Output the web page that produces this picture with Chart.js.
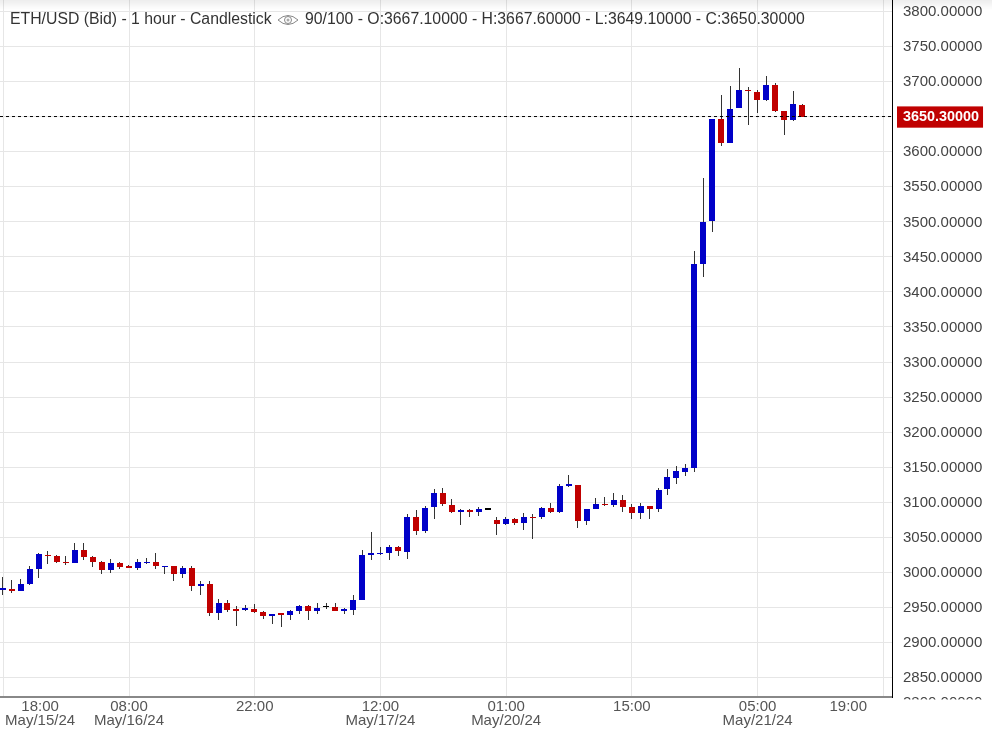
<!DOCTYPE html>
<html lang="en">

<head>
    <meta charset="UTF-8">
    <title>ETH/USD (Bid) - 1 hour - Candlestick</title>
    <script src="https://cdn.jsdelivr.net/npm/chart.js"></script>
    <style>
        body {
            margin: 0;
            background: #fff;
            overflow: hidden;
        }

        .wrap {
            position: relative;
            width: 992px;
            height: 731px;
        }

        canvas {
            position: absolute;
            left: 0;
            top: 0;
        }

        .shade {
            position: absolute;
            left: 0;
            top: 0;
            width: 992px;
            height: 10px;
            background: linear-gradient(rgba(0, 0, 0, 0.07), rgba(0, 0, 0, 0));
        }

        .head {
            position: absolute;
            top: 10px;
            font: 15.8px/17px "Liberation Sans", Arial, sans-serif;
            color: #333;
            white-space: nowrap;
        }
    </style>
</head>

<body>
    <div class="wrap">
        <canvas id="chart" width="992" height="731"></canvas>
        <div class="shade"></div>
        <div class="head" style="left:10px">ETH/USD (Bid) - 1 hour - Candlestick</div>
        <svg style="position:absolute;left:277px;top:13px" width="22" height="14" viewBox="0 0 22 14">
            <path d="M1 7 Q11 -2 21 7 Q11 16 1 7 Z" fill="none" stroke="#888" />
            <circle cx="11" cy="7" r="3.5" fill="none" stroke="#888" />
            <circle cx="11" cy="7" r="1.5" fill="#aaa" />
        </svg>
        <div class="head" style="left:305px">90/100 - O:3667.10000 - H:3667.60000 - L:3649.10000 - C:3650.30000</div>
    </div>

    <script>
        const opens = [2975.0, 2976.1, 2973.3, 2983.2, 3004.6, 3024.6, 3023.2, 3014.6, 3013.2, 3031.8,
            3021.8, 3014.6, 3003.2, 3013.2, 3007.5, 3006.1, 3013.2, 3014.6, 3007.5, 3008.9,
            2997.5, 3006.1, 2980.4, 2983.2, 2941.9, 2956.1, 2946.2, 2946.2, 2947.6, 2943.3,
            2937.6, 2940.4, 2939.0, 2944.7, 2951.8, 2944.7, 2950.2, 2950.5, 2944.8, 2946.2,
            2960.5, 3024.6, 3026.0, 3027.5, 3036.0, 3028.9, 3078.8, 3058.9, 3093.1, 3113.1,
            3095.9, 3086.0, 3087.4, 3086.0, 3089.5, 3074.6, 3068.9, 3076.0, 3070.3, 3078.8,
            3078.8, 3091.7, 3086.0, 3123.1, 3124.5, 3073.1, 3090.2, 3097.4, 3095.9, 3103.1,
            3093.1, 3084.5, 3094.5, 3090.2, 3118.8, 3134.5, 3143.1, 3148.8, 3439.9, 3501.2,
            3646.8, 3612.5, 3662.4, 3688.1, 3685.3, 3673.9, 3695.3, 3658.2, 3645.3, 3667.1];
        const highs = [2992.8, 2989.0, 2990.4, 3008.9, 3027.5, 3030.3, 3024.6, 3023.2, 3041.8, 3041.8,
            3023.2, 3016.1, 3018.9, 3014.6, 3010.4, 3018.9, 3020.3, 3027.5, 3008.9, 3008.9,
            3008.9, 3008.9, 2987.5, 2987.5, 2961.8, 2960.4, 2951.8, 2953.3, 2954.7, 2944.7,
            2940.4, 2940.4, 2946.2, 2953.3, 2953.3, 2956.1, 2956.1, 2956.2, 2949.0, 2967.6,
            3031.7, 3057.4, 3036.0, 3038.9, 3037.5, 3083.1, 3088.8, 3094.5, 3118.8, 3120.2,
            3104.5, 3090.2, 3090.2, 3093.1, 3090.2, 3078.8, 3078.8, 3077.4, 3084.5, 3083.1,
            3093.1, 3098.8, 3125.9, 3138.8, 3124.5, 3090.2, 3105.9, 3107.4, 3113.1, 3110.2,
            3097.4, 3098.8, 3094.5, 3120.2, 3147.4, 3151.6, 3154.5, 3458.4, 3562.6, 3646.8,
            3681.0, 3693.8, 3719.5, 3692.4, 3688.1, 3708.1, 3698.1, 3658.2, 3686.7, 3667.6];
        const lows = [2967.5, 2970.9, 2973.3, 2981.8, 2991.8, 3011.8, 3013.2, 3010.4, 3013.2, 3017.5,
            3007.5, 2997.5, 2999.0, 3004.6, 3005.6, 3003.2, 3011.8, 3004.6, 2997.5, 2987.5,
            2991.8, 2973.3, 2967.5, 2937.6, 2931.9, 2943.3, 2923.3, 2944.7, 2941.9, 2933.3,
            2926.2, 2921.9, 2931.9, 2940.4, 2931.9, 2940.4, 2947.6, 2944.8, 2940.5, 2939.0,
            2959.8, 3017.5, 3024.6, 3017.5, 3023.2, 3018.9, 3053.2, 3056.0, 3076.0, 3094.5,
            3084.5, 3067.4, 3078.8, 3080.3, 3088.8, 3053.2, 3067.4, 3067.4, 3060.3, 3047.4,
            3076.0, 3084.5, 3084.5, 3121.6, 3063.1, 3067.4, 3090.2, 3094.5, 3093.1, 3086.0,
            3076.0, 3076.0, 3076.0, 3086.0, 3110.3, 3126.0, 3137.4, 3143.1, 3421.3, 3485.5,
            3608.2, 3612.5, 3662.4, 3638.2, 3655.3, 3672.4, 3656.7, 3623.9, 3643.9, 3649.1];
        const closes = [2975.6, 2973.3, 2983.2, 3004.6, 3026.1, 3023.2, 3014.6, 3013.2, 3031.8, 3021.8,
            3014.6, 3003.2, 3013.2, 3007.5, 3006.1, 3014.6, 3014.6, 3008.9, 3008.9, 2997.5,
            3006.1, 2980.4, 2983.2, 2941.9, 2956.1, 2946.2, 2945.2, 2947.6, 2943.3, 2937.6,
            2940.4, 2939.5, 2944.7, 2951.8, 2944.7, 2949.0, 2950.2, 2944.8, 2946.2, 2960.5,
            3024.6, 3027.5, 3027.5, 3036.0, 3030.3, 3078.8, 3058.9, 3091.7, 3113.1, 3097.4,
            3086.0, 3087.4, 3086.0, 3090.2, 3089.5, 3068.9, 3076.0, 3070.3, 3078.8, 3077.4,
            3091.7, 3086.0, 3123.1, 3124.5, 3073.1, 3090.2, 3097.4, 3095.9, 3103.1, 3093.1,
            3084.5, 3094.5, 3090.2, 3117.4, 3135.9, 3144.5, 3148.8, 3439.9, 3499.8, 3646.8,
            3612.5, 3661.0, 3688.1, 3686.7, 3673.9, 3695.3, 3658.2, 3645.3, 3668.2, 3650.3];

        const lastPrice = 3650.3;
        const priceTicks = [2850, 2900, 2950, 3000, 3050, 3100, 3150, 3200, 3250, 3300, 3350, 3400, 3450,
            3500, 3550, 3600, 3650, 3700, 3750, 3800];
        const gridIndexes = [0, 14, 28, 42, 56, 70, 84, 98];
        const labelIndexes = [4.1, 14, 28, 42, 56, 70, 84, 94.1];
        const timeLabels = ["18:00", "08:00", "22:00", "12:00", "01:00", "15:00", "05:00", "19:00"];
        const dateLabels = ["May/15/24", "May/16/24", "", "May/17/24", "May/20/24", "", "May/21/24", ""];

        const xMin = -0.367, xMax = 98.97;
        const upColor = "#0000c8", downColor = "#c00000", flatColor = "#000";
        const fontFamily = '"Liberation Sans", Arial, sans-serif';
        const isLast = (ctx) => ctx.tick && ctx.tick.value === lastPrice;
        const noPadding = (scale) => {
            scale.paddingLeft = scale.paddingRight = scale.paddingTop = scale.paddingBottom = 0;
        };
        const bodyColor = (ctx) => {
            const o = opens[ctx.dataIndex], c = closes[ctx.dataIndex];
            return c > o ? upColor : c < o ? downColor : flatColor;
        };

        // snap the bars to whole pixels so the candles stay crisp
        const snapBars = {
            id: "snapBars",
            afterDatasetsUpdate(chart) {
                [0, 1].forEach((d) => {
                    chart.getDatasetMeta(d).data.forEach((bar) => {
                        const w = bar.width;
                        bar.x = Math.floor(bar.x - w / 2 + 0.2) + w / 2;
                        bar.y = Math.round(bar.y);
                        bar.base = Math.round(bar.base);
                    });
                });
            }
        };

        // the half hidden tick under the bottom axis
        const cutLabel = {
            id: "cutLabel",
            afterDraw(chart) {
                const c = chart.ctx;
                c.save();
                c.beginPath();
                c.rect(893, 697, 99, 2.5);
                c.clip();
                c.font = "15px " + fontFamily;
                c.fillStyle = "#444";
                c.textBaseline = "middle";
                c.fillText("2800.00000", 903, 703);
                c.restore();
            }
        };

        new Chart(document.getElementById("chart"), {
            data: {
                datasets: [
                    {
                        type: "bar",
                        data: lows.map((l, i) => ({ x: i, y: [l, highs[i]] })),
                        backgroundColor: "#333",
                        barThickness: 1,
                        grouped: false,
                        inflateAmount: 0,
                        order: 3
                    },
                    {
                        type: "bar",
                        data: closes.map((c, i) => ({ x: i, y: [opens[i], c] })),
                        backgroundColor: bodyColor,
                        barThickness: 6,
                        minBarLength: 1.5,
                        grouped: false,
                        inflateAmount: 0,
                        order: 2
                    },
                    {
                        type: "line",
                        data: [{ x: xMin, y: lastPrice }, { x: xMax, y: lastPrice }],
                        borderColor: "#000",
                        borderWidth: 1,
                        borderDash: [3, 3],
                        pointRadius: 0,
                        order: 1
                    }
                ]
            },
            options: {
                responsive: false,
                animation: false,
                devicePixelRatio: 1,
                layout: { padding: 0 },
                plugins: {
                    legend: { display: false },
                    tooltip: { enabled: false }
                },
                scales: {
                    x: {
                        type: "linear",
                        position: "bottom",
                        offset: false,
                        min: xMin,
                        max: xMax,
                        afterBuildTicks: (scale) => { scale.ticks = gridIndexes.map((v) => ({ value: v })); },
                        afterFit: (scale) => { scale.height = 0; noPadding(scale); },
                        ticks: { display: false },
                        grid: { color: "#e6e6e6", drawTicks: false, offset: false },
                        border: { color: "#888", width: 2 }
                    },
                    xLabels: {
                        type: "linear",
                        position: "bottom",
                        offset: false,
                        min: xMin,
                        max: xMax,
                        afterBuildTicks: (scale) => { scale.ticks = labelIndexes.map((v) => ({ value: v })); },
                        afterFit: (scale) => { scale.height = 34; noPadding(scale); },
                        ticks: {
                            autoSkip: false,
                            maxRotation: 0,
                            padding: 3,
                            color: "#555",
                            font: { family: fontFamily, size: 15, lineHeight: 14 / 15 },
                            callback: (v, i) => [timeLabels[i], dateLabels[i]]
                        },
                        grid: { display: false, drawTicks: false },
                        border: { display: false }
                    },
                    y: {
                        position: "right",
                        min: 2822,
                        max: 3816.6,
                        afterBuildTicks: (scale) => {
                            scale.ticks = priceTicks.concat(lastPrice).map((v) => ({ value: v }));
                        },
                        afterFit: (scale) => { scale.width = 100; noPadding(scale); },
                        ticks: {
                            autoSkip: false,
                            padding: 11,
                            labelOffset: 0.5,
                            crossAlign: "near",
                            color: (ctx) => isLast(ctx) ? "#fff" : "#444",
                            font: (ctx) => ({
                                family: fontFamily,
                                size: isLast(ctx) ? 14.4 : 15,
                                weight: isLast(ctx) ? "bold" : "normal"
                            }),
                            showLabelBackdrop: isLast,
                            backdropColor: downColor,
                            backdropPadding: { left: 6, right: 4, top: 2, bottom: 2 },
                            callback: (v) => v.toFixed(5)
                        },
                        grid: {
                            color: (ctx) => isLast(ctx) ? "rgba(0,0,0,0)" : "#e6e6e6",
                            drawTicks: false
                        },
                        border: { color: "#000", width: 1 }
                    }
                }
            },
            plugins: [snapBars, cutLabel]
        });
    </script>
</body>

</html>
